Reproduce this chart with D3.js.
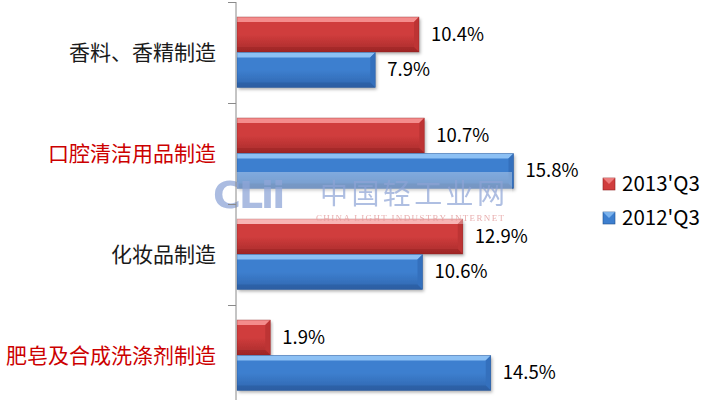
<!DOCTYPE html>
<html>
<head>
<meta charset="utf-8">
<script src="https://cdn.jsdelivr.net/npm/d3@7"></script>
<style>
html,body{margin:0;padding:0;background:#fff;}
svg{display:block;}
</style>
</head>
<body>
<svg id="chart" width="720" height="400"></svg>
<script>
const categories = ["香料、香精制造", "口腔清洁用品制造", "化妆品制造", "肥皂及合成洗涤剂制造"];
const categoryColors = ["#1a1a1a", "#cc0000", "#1a1a1a", "#cc0000"];
const seriesNames = ["2013'Q3", "2012'Q3"];
const values2013 = [10.4, 10.7, 12.9, 1.9];
const values2012 = [7.9, 15.8, 10.6, 14.5];
const seriesValues = [values2013, values2012];

const font = "'Noto Sans CJK SC', 'Noto Sans', sans-serif";
const svg = d3.select("#chart");
const defs = svg.append("defs");

const palettes = [
  {top:"#f47a7a", mid:"#d03d3d", bot:"#a82a2a", bevelTop:"#f48c8c", bevelRight:"#bd3434", edge:"#8e2020"},
  {top:"#7ab4f0", mid:"#3d7fcf", bot:"#2f65ae", bevelTop:"#8cc0f4", bevelRight:"#3470bd", edge:"#24508c"}
];
palettes.forEach((p,i)=>{
  const g = defs.append("linearGradient").attr("id","g"+i).attr("x1",0).attr("y1",0).attr("x2",0).attr("y2",1);
  g.append("stop").attr("offset","0%").attr("stop-color",p.mid);
  g.append("stop").attr("offset","50%").attr("stop-color",p.mid);
  g.append("stop").attr("offset","100%").attr("stop-color",p.bot);
});
const sh = defs.append("filter").attr("id","shadow").attr("x","-5%").attr("y","-20%").attr("width","115%").attr("height","160%");
sh.append("feDropShadow").attr("dx",1.5).attr("dy",2).attr("stdDeviation",1.5).attr("flood-color","#000").attr("flood-opacity",0.3);

const x0 = 237;
const x = d3.scaleLinear().domain([0, 20]).range([x0, x0 + 350]);
const y = d3.scaleBand().domain(categories).range([2, 406]).paddingInner(0).paddingOuter(0);
const yInner = d3.scaleBand().domain(seriesNames).range([15, 86]).paddingInner(0);

// bars
const bev = 5;
categories.forEach((cat, ci) => {
  seriesNames.forEach((s, si) => {
    const v = seriesValues[si][ci];
    const p = palettes[si];
    const X0 = x(0), X1 = x(v);
    const Y0 = y(cat) + yInner(s), Y1 = Y0 + yInner.bandwidth() - 0.5;
    const g = svg.append("g");
    g.append("rect").attr("x",X0).attr("y",Y0).attr("width",X1-X0).attr("height",Y1-Y0)
      .attr("fill","url(#g"+si+")").attr("filter","url(#shadow)");
    g.append("path").attr("d",`M${X0},${Y0}L${X1},${Y0}L${X1-bev},${Y0+bev}L${X0},${Y0+bev}Z`).attr("fill",p.bevelTop);
    g.append("path").attr("d",`M${X1},${Y0}L${X1},${Y1}L${X1-bev},${Y1-bev}L${X1-bev},${Y0+bev}Z`).attr("fill",p.bevelRight);
    g.append("path").attr("d",`M${X0},${Y1}L${X1},${Y1}L${X1-bev},${Y1-bev}L${X0},${Y1-bev}Z`).attr("fill",p.edge).attr("opacity",0.35);
    g.append("rect").attr("x",X0).attr("y",Y0).attr("width",X1-X0).attr("height",Y1-Y0)
      .attr("fill","none").attr("stroke",p.edge).attr("stroke-width",0.6).attr("opacity",0.6);
    svg.append("text").attr("x",X1+12).attr("y",(Y0+Y1)/2).attr("dy","0.35em")
      .attr("font-family",font).attr("font-size",18.5).attr("fill","#000").text(v.toFixed(1)+"%");
  });
});

// watermark
const wm = svg.append("g");
wm.append("rect").attr("x",236).attr("y",172).attr("width",276).attr("height",52).attr("fill","#fff").attr("opacity",0.35);
wm.append("text").attr("x",213).attr("y",208).attr("font-family","'DejaVu Sans', sans-serif").attr("font-weight","bold")
  .attr("font-size",38).attr("fill","#8fa6d8").attr("opacity",0.75).attr("letter-spacing",-2).text("CLii");
wm.append("text").attr("x",320).attr("y",204).attr("font-family",font)
  .attr("font-size",28).attr("fill","#8ea4d6").attr("opacity",0.7).attr("textLength",185).text("中国轻工业网");
wm.append("text").attr("x",316).attr("y",221).attr("font-family","'Liberation Serif', serif")
  .attr("font-size",9).attr("fill","#e39a9a").attr("opacity",0.8).attr("textLength",188).text("CHINA LIGHT INDUSTRY INTERNET");

// axis
const axisG = svg.append("g").attr("transform",`translate(${x0-1},0)`);
axisG.append("line").attr("x1",0).attr("x2",0).attr("y1",2).attr("y2",400).attr("stroke","#8a8a8a").attr("stroke-width",1);
const bounds = categories.map(c => y(c)).concat([y.range()[1]]);
axisG.selectAll("line.tick").data(bounds).join("line").attr("class","tick")
  .attr("x1",-8).attr("x2",0).attr("y1",d=>Math.round(d)+0.5).attr("y2",d=>Math.round(d)+0.5)
  .attr("stroke","#8a8a8a");

svg.append("g").selectAll("text").data(categories).join("text")
  .attr("x",216).attr("y",d=>y(d)+y.bandwidth()/2).attr("dy","0.35em")
  .attr("text-anchor","end").attr("font-family",font).attr("font-size",21)
  .attr("fill",(d,i)=>categoryColors[i]).text(d=>d);

// legend
const leg = svg.append("g");
seriesNames.forEach((s,i)=>{
  const ly = 178 + i*34;
  const p = palettes[i];
  leg.append("rect").attr("x",603).attr("y",ly).attr("width",12).attr("height",12).attr("fill",p.mid).attr("stroke",p.edge).attr("stroke-width",0.6);
  leg.append("path").attr("d",`M603,${ly}L615,${ly}L609,${ly+6}Z`).attr("fill",p.bevelTop).attr("opacity",0.8);
  leg.append("text").attr("x",622).attr("y",ly+6).attr("dy","0.36em").attr("font-family",font)
    .attr("font-size",20.5).attr("fill","#000").text(s);
});
</script>
</body>
</html>
